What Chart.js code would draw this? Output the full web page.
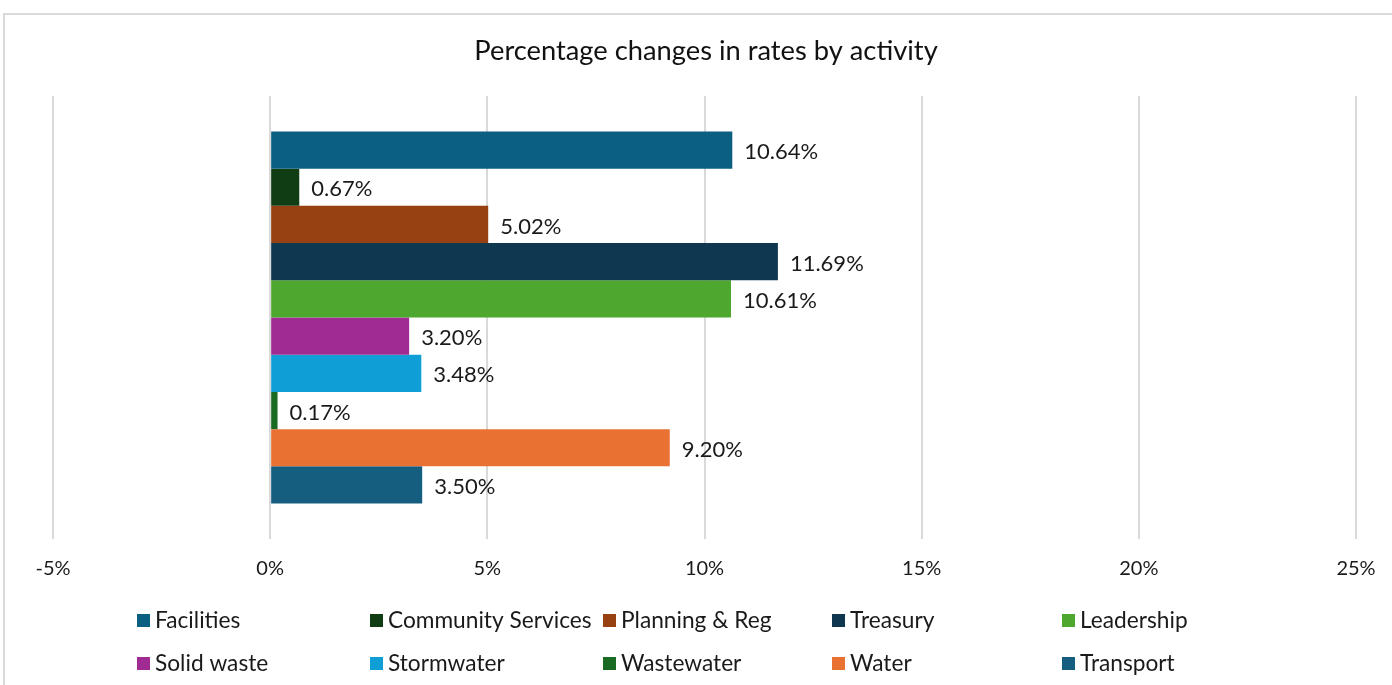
<!DOCTYPE html>
<html><head><meta charset="utf-8">
<script src="https://cdn.jsdelivr.net/npm/chart.js@4.4.1/dist/chart.umd.min.js"></script>
<style>html,body{margin:0;padding:0;background:#fff;}#wrap{width:1392px;height:685px;position:relative;}</style>
</head><body><div id="wrap"><canvas id="c" width="1392" height="685"></canvas></div>
<script>
const title = "Percentage changes in rates by activity";
const categories = ["Rates"];
const seriesNames = ["Facilities","Community Services","Planning & Reg","Treasury","Leadership","Solid waste","Stormwater","Wastewater","Water","Transport"];
const seriesValues = [10.64,0.67,5.02,11.69,10.61,3.20,3.48,0.17,9.20,3.50];
const seriesColors = ["#0B5F80","#113D15","#974011","#0F374F","#4EA72E","#A02B93","#0F9ED5","#196B24","#E97132","#165E80"];
const tickValues = [-5,0,5,10,15,20,25];

const FONT = "Lato, 'Open Sans', sans-serif";

const datasets = seriesNames.map((n,i)=>({label:n,data:[seriesValues[i]],backgroundColor:seriesColors[i],borderWidth:0,categoryPercentage:0.84,barPercentage:1.0}));

const frame = {id:'frame',beforeDraw(ch){const c=ch.ctx;c.save();c.fillStyle='#fff';c.fillRect(0,0,ch.width,ch.height);c.strokeStyle='#d9d9d9';c.lineWidth=2;c.beginPath();c.moveTo(4,685);c.lineTo(4,14);c.lineTo(1392,14);c.stroke();
c.fillStyle='#111';c.font='27.3px '+FONT;c.textAlign='center';c.textBaseline='middle';c.fillText(title,706,51);c.restore();}};

const labels = {id:'labels',afterDatasetsDraw(ch){const c=ch.ctx;c.save();c.font='22px '+FONT;c.fillStyle='#1a1a1a';c.textBaseline='middle';c.textAlign='left';
ch.data.datasets.forEach((d,i)=>{const m=ch.getDatasetMeta(i);m.data.forEach((el,j)=>{c.fillText(d.data[j].toFixed(2)+'%',el.x+12,el.y+2);});});c.restore();}};

const legend = {id:'leg',afterDraw(ch){const c=ch.ctx;c.save();c.font='22.7px '+FONT;c.textBaseline='middle';c.textAlign='left';
const xs=[137,370,603,832,1062];const ys=[620,663];
ch.data.datasets.forEach((d,i)=>{const x=xs[i%5],y=ys[Math.floor(i/5)];c.fillStyle=d.backgroundColor;c.fillRect(x,y-6,13,13);c.fillStyle='#1a1a1a';c.fillText(d.label,x+18,y+1);});c.restore();}};

new Chart(document.getElementById('c'),{type:'bar',data:{labels:categories,datasets},
options:{indexAxis:'y',responsive:false,animation:false,devicePixelRatio:1,
layout:{padding:{left:53,right:36,top:96,bottom:86}},
plugins:{legend:{display:false},title:{display:false},tooltip:{enabled:false}},
scales:{x:{min:-5,max:25,afterBuildTicks(ax){ax.ticks=tickValues.map(v=>({value:v}));},
afterFit(ax){ax.paddingLeft=0;ax.paddingRight=0;},
ticks:{callback:v=>v+'%',font:{family:FONT,size:20},color:'#1a1a1a',padding:18,maxRotation:0},
grid:{color:'#d9d9d9',lineWidth:2,drawTicks:false},border:{display:false}},
y:{display:false}}},
plugins:[frame,labels,legend]});
</script></body></html>
